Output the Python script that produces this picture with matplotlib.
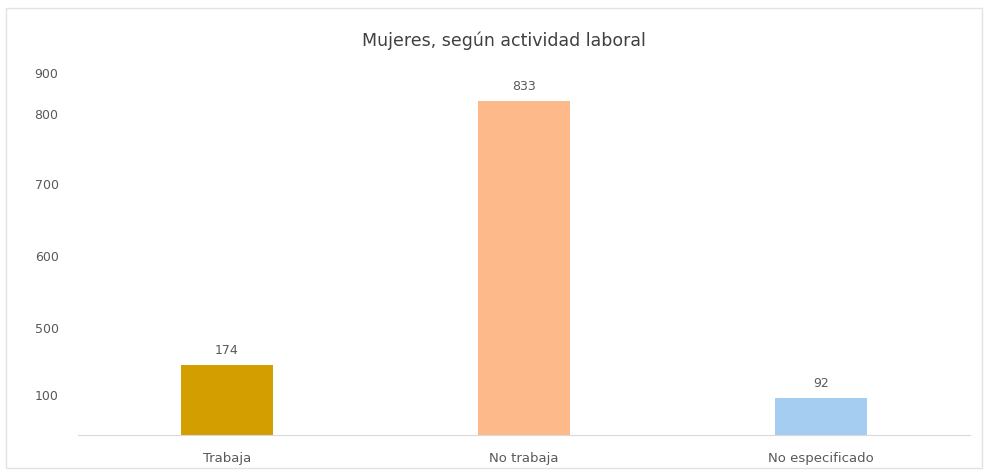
import matplotlib
matplotlib.use("Agg")
import matplotlib.pyplot as plt
from matplotlib.patches import Rectangle

# datos
categorias = ["Trabaja", "No trabaja", "No especificado"]
valores = [174, 833, 92]
colores = ["#D29E00", "#FDB98A", "#A5CCF1"]
# etiquetas del eje tal como aparecen en el original (no equiespaciadas)
ytick_pos = [100, 267, 446, 626, 800, 903]
ytick_lab = ["100", "500", "600", "700", "800", "900"]

plt.rcParams['font.family'] = ['DejaVu Sans']
gris = "#595959"

fig = plt.figure(figsize=(9.89, 4.74), dpi=100)
ax = fig.add_axes([78 / 989, 1 - 435 / 474, 892 / 989, (435 - 70) / 474])

x = range(len(categorias))
barras = ax.bar(x, valores, width=0.31, color=colores)

for b, v in zip(barras, valores):
    ax.annotate(str(v), (b.get_x() + b.get_width() / 2, v),
                xytext=(0, 6), textcoords="offset points",
                ha="center", va="bottom", fontsize=9, color=gris)

ax.set_xlim(-0.5, 2.5)
ax.set_ylim(0, 910)
ax.set_xticks(list(x))
ax.set_xticklabels(categorias, fontsize=9.5, color=gris)
ax.set_yticks(ytick_pos)
ax.set_yticklabels(ytick_lab, fontsize=9, color=gris)
ax.tick_params(axis="both", length=0)
ax.tick_params(axis="x", pad=12)
ax.tick_params(axis="y", pad=14)

for s in ["top", "right", "left"]:
    ax.spines[s].set_visible(False)
ax.spines["bottom"].set_color("#D9D9D9")

fig.text(0.51, 1 - 41 / 474, "Mujeres, según actividad laboral",
         ha="center", va="center", fontsize=12.5, color="#404040")

# marco del gráfico
fig.patches.append(Rectangle((6 / 989, 6 / 474), 976 / 989, 460 / 474,
                             transform=fig.transFigure, fill=False,
                             edgecolor="#E3E3E3", linewidth=1))

plt.savefig("out.png", dpi=100)
